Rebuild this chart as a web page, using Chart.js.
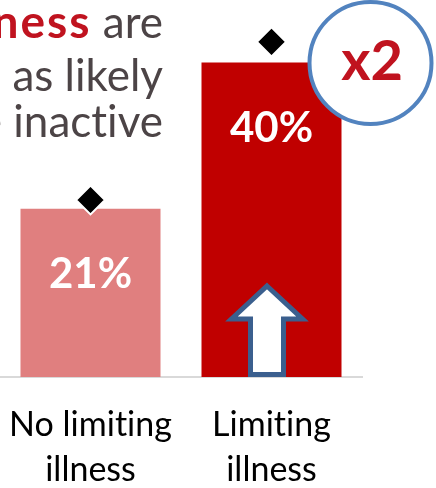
<!DOCTYPE html>
<html><head><meta charset="utf-8">
<script src="https://cdn.jsdelivr.net/npm/chart.js@4.4.0/dist/chart.umd.min.js"></script>
<style>html,body{margin:0;padding:0;background:#fff}#wrap{width:436px;height:488px;position:relative}canvas{font-variant-ligatures:none}</style>
</head><body><div id="wrap"><canvas id="c" width="436" height="488"></canvas></div>
<script>
// ---- data ----
const categories = [["No limiting", "illness"], ["Limiting", "illness"]];
const inactivePct = [21.3, 39.8];
const markerPct = [22.4, 42.4];
const barLabels = ["21%", "40%"];
const barColors = ["#e07f7f", "#c00000"];
const headlineLines = [
  [["People with a ", "n"], ["limiting illness", "r"], [" are", "n"]],
  [["twice as likely", "n"]],
  [["to be inactive", "n"]]
];
const badgeText = "x2";

const FONT = "Lato, 'Open Sans', sans-serif";
const RED = "#c0131f";
const GRAY = "#4c4446";

const noLig = {
  id: "noLig",
  beforeDraw(chart) {
    const ctx = chart.ctx;
    try { ctx.textRendering = "optimizeSpeed"; } catch (e) {}
    try { ctx.letterSpacing = "0.01px"; } catch (e) {}
  }
};

const overlay = {
  id: "overlay",
  afterDatasetsDraw(chart) {
    const ctx = chart.ctx;
    const bars = chart.getDatasetMeta(0).data;
    const area = chart.chartArea;
    ctx.save();
    // arrow on second bar
    const b2 = bars[1];
    const ax = b2.x - 4.5, bottom = area.bottom - 2.5;
    ctx.beginPath();
    ctx.moveTo(ax, 286);
    ctx.lineTo(ax + 35.5, 319);
    ctx.lineTo(ax + 16.5, 319);
    ctx.lineTo(ax + 16.5, bottom);
    ctx.lineTo(ax - 16.5, bottom);
    ctx.lineTo(ax - 16.5, 319);
    ctx.lineTo(ax - 35.5, 319);
    ctx.closePath();
    ctx.fillStyle = "#ffffff";
    ctx.fill();
    ctx.lineWidth = 5;
    ctx.lineJoin = "miter";
    ctx.strokeStyle = "#3b5f8e";
    ctx.stroke();
    // value labels inside bars
    ctx.fillStyle = "#ffffff";
    ctx.font = "bold 42px " + FONT;
    ctx.textAlign = "center";
    ctx.textBaseline = "middle";
    bars.forEach((b, i) => ctx.fillText(barLabels[i], b.x, b.y + 66));
    // badge circle
    ctx.beginPath();
    ctx.arc(370.5, 63, 61, 0, Math.PI * 2);
    ctx.fillStyle = "#ffffff";
    ctx.fill();
    ctx.lineWidth = 4;
    ctx.strokeStyle = "#5283bf";
    ctx.stroke();
    ctx.fillStyle = RED;
    ctx.font = "bold 56px " + FONT;
    ctx.fillText(badgeText, 372, 62);
    // headline (right aligned, cut at left edge)
    ctx.textBaseline = "alphabetic";
    ctx.textAlign = "left";
    const baselines = [38, 91, 137];
    const right = 163;
    headlineLines.forEach((segs, li) => {
      let x = right;
      for (let s = segs.length - 1; s >= 0; s--) {
        const [txt, kind] = segs[s];
        if (kind === "r") {
          ctx.font = "bold 46px " + FONT;
          ctx.letterSpacing = "2px";
        } else {
          ctx.font = "44px " + FONT;
          ctx.letterSpacing = "0.01px";
        }
        const w = ctx.measureText(txt).width;
        x -= w;
        ctx.fillStyle = kind === "r" ? RED : GRAY;
        ctx.fillText(txt, x, baselines[li]);
      }
    });
    ctx.letterSpacing = "0.01px";
    ctx.restore();
  }
};

new Chart(document.getElementById("c"), {
  type: "bar",
  data: {
    labels: categories,
    datasets: [
      {
        type: "bar",
        data: inactivePct,
        backgroundColor: barColors,
        borderWidth: 0,
        categoryPercentage: 1,
        barPercentage: 0.7735,
        order: 2
      },
      {
        type: "line",
        data: markerPct,
        showLine: false,
        pointStyle: "rectRot",
        pointRadius: 14.5,
        pointHoverRadius: 14.5,
        pointBackgroundColor: "#000000",
        pointBorderColor: "#ffffff",
        pointBorderWidth: 2,
        order: 1
      }
    ]
  },
  options: {
    responsive: false,
    animation: false,
    devicePixelRatio: 1,
    layout: { autoPadding: false, padding: { left: 0, right: 74, top: 0, bottom: 0 } },
    plugins: { legend: { display: false }, tooltip: { enabled: false } },
    scales: {
      y: { display: false, min: 0, max: 47.7 },
      x: {
        offset: true,
        grid: { display: false, drawTicks: false },
        border: { display: true, color: "#d9d9d9", width: 2 },
        ticks: {
          color: "#000000",
          padding: 26,
          font: { family: FONT, size: 34, lineHeight: "45px" },
          maxRotation: 0,
          autoSkip: false
        },
        afterFit(scale) {
          scale.height = 111;
          scale.paddingLeft = 0;
          scale.paddingRight = 0;
          scale.paddingTop = 0;
          scale.paddingBottom = 0;
        }
      }
    }
  },
  plugins: [noLig, overlay]
});
</script>
</body></html>
